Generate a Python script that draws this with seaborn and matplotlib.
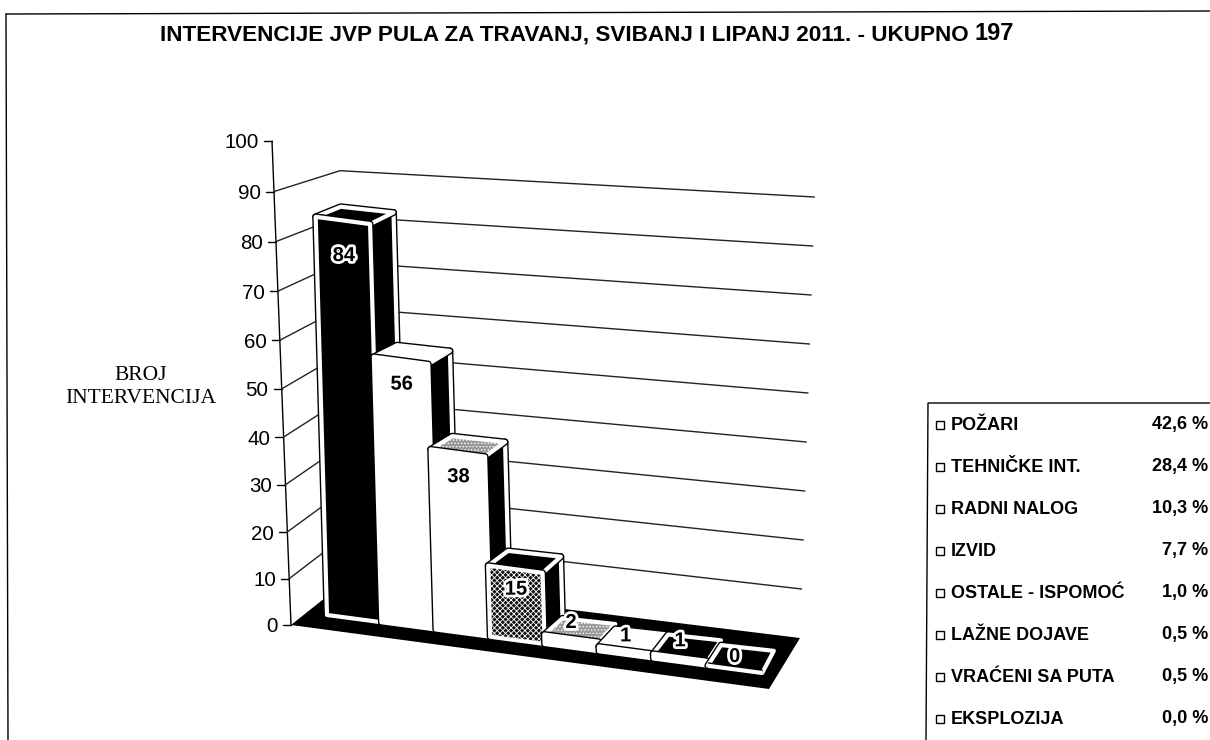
import numpy as np
import seaborn as sns
import matplotlib.pyplot as plt
import matplotlib.patheffects as pe
from matplotlib.patches import Polygon, Rectangle
from matplotlib.transforms import Affine2D

categories = ['POŽARI', 'TEHNIČKE INT.', 'RADNI NALOG', 'IZVID',
              'OSTALE - ISPOMOĆ', 'LAŽNE DOJAVE', 'VRAĆENI SA PUTA', 'EKSPLOZIJA']
values = [84, 56, 38, 15, 2, 1, 1, 0]
percents = ['42,6 %', '28,4 %', '10,3 %', '7,7 %', '1,0 %', '0,5 %', '0,5 %', '0,0 %']
y_ticks = [0, 10, 20, 30, 40, 50, 60, 70, 80, 90, 100]

front_colors = ['black', 'white', 'white', '#111111', 'white', 'white', 'white', 'white']
top_colors = ['black', 'white', '#999999', 'black', '#999999', 'white', 'black', 'black']
# label distance below the bar top, in value units
label_drop = [7.4, 5, 5, 4.2, -3.3, -3, -3.5, -2.7]

sns.set_theme(style='white')
plt.rcParams['font.family'] = ['Liberation Sans', 'DejaVu Sans']
plt.rcParams['hatch.linewidth'] = 0.6

fig = plt.figure(figsize=(12.1, 7.4), dpi=100)
ax = fig.add_axes([0, 0, 1, 1])

sns.barplot(x=categories, y=values, hue=categories, palette=front_colors, width=1,
            legend=False, ax=ax)
ax.axis('off')
bars = list(ax.patches)

# reference pixels (y down) to display, and the oblique front plane of the bars
ref = Affine2D().scale(1, -1).translate(0, 740)
front = Affine2D.from_values(54.4, 7.25, -0.135, -4.74, 354.2, 618.6)


def depth(p):
    # the depth vector fans out towards the right of the floor
    return p + np.array([24 - 0.03 * (p[0] - 350), -(11 + 0.027 * (p[0] - 350))])


def axis_pt(v):
    return np.array([291 - 0.19 * v, 625 - 4.6 * v - 0.0024 * v * v])


def back_left(v):
    return np.array([345 - 0.055 * v, 582 - 4.57 * v])


def back_right(v):
    return np.array([800 + 0.16 * v, 638 - 4.9 * v])


def outline():
    return [pe.Stroke(linewidth=5, foreground='black'), pe.Normal()]


def face(points, color, z, hatch=None):
    poly = Polygon(points, closed=True, facecolor=color, edgecolor='white', linewidth=3,
                   joinstyle='round', transform=ref, zorder=z, clip_on=False, hatch=hatch)
    poly.set_path_effects(outline())
    ax.add_patch(poly)


# walls and floor
ax.plot(*zip(axis_pt(0), axis_pt(100)), color='black', lw=1, transform=ref, zorder=1, clip_on=False)
for v in y_ticks:
    p = axis_pt(v)
    ax.plot([p[0] - 8, p[0]], [p[1], p[1]], color='black', lw=1, transform=ref, zorder=1, clip_on=False)
    ax.text(p[0] - 13, p[1], str(v), ha='right', va='center_baseline', fontsize=14.8, color='black', transform=ref)
    if 0 < v < 100:
        ax.plot(*zip(p, back_left(v), back_right(v)), color='#222222', lw=1, transform=ref, zorder=1, clip_on=False)

floor = Polygon([(291, 625), (345, 582), (800, 638), (769, 689)], closed=True, facecolor='black',
                edgecolor='none', transform=ref, zorder=2, clip_on=False)
ax.add_patch(floor)

to_px = front.transform
for i, bar in enumerate(bars):
    x0, x1 = bar.get_x(), bar.get_x() + bar.get_width()
    h = bar.get_height()
    z = 3 + i
    fr = to_px((x1, 0))
    tl, tr = to_px((x0, h)), to_px((x1, h))
    if h > 0:
        face([fr, depth(fr), depth(tr), tr], 'black', z)
    face([tl, tr, depth(tr), depth(tl)], top_colors[i], z,
         hatch='.....' if top_colors[i] == '#999999' else None)
    bar.set_transform(front + ref)
    bar.set_clip_on(False)
    bar.set_zorder(z + 0.5)
    bar.set_edgecolor('white')
    bar.set_linewidth(3)
    bar.set_joinstyle('round')
    bar.set_path_effects(outline())
    if i == 3:
        bar.set_hatch('xxxxxx')
    cx = (x0 + x1) / 2
    ax.text(*to_px((cx, h - label_drop[i])), str(values[i]), ha='center', va='center',
            fontsize=14.5, fontweight='bold', color='black', transform=ref, zorder=20,
            path_effects=[pe.withStroke(linewidth=4, foreground='white')])

# page frame
ax.plot([6, 1210], [14, 11], color='black', lw=1, transform=ref, clip_on=False)
ax.plot([6, 8], [14, 740], color='black', lw=1, transform=ref, clip_on=False)

# title
ax.text(160, 35, 'INTERVENCIJE JVP PULA ZA TRAVANJ, SVIBANJ I LIPANJ 2011. - UKUPNO',
        ha='left', va='center', fontsize=16.2, fontweight='bold', color='black', transform=ref)
ax.text(975, 33, '197', ha='left', va='center', fontsize=17, fontweight='bold', color='black', transform=ref)

ax.text(141, 387, 'BROJ\nINTERVENCIJA', ha='center', va='center', fontsize=15.5,
        family='Liberation Serif', color='black', linespacing=1.25, transform=ref)

# legend box
ax.plot([1210, 928, 926], [403, 403, 740], color='black', lw=1, transform=ref, clip_on=False)
for k, (name, pct) in enumerate(zip(categories, percents)):
    y = 425 + k * 42
    ax.add_patch(Rectangle((936, y - 4), 8, 8, facecolor='white', edgecolor='black', lw=1,
                           transform=ref, clip_on=False))
    ax.text(951, y, name, ha='left', va='center', fontsize=13, fontweight='bold', color='black', transform=ref)
    ax.text(1208, y, pct, ha='right', va='center', fontsize=13, fontweight='bold', color='black', transform=ref)

fig.savefig('out.png', dpi=100)
